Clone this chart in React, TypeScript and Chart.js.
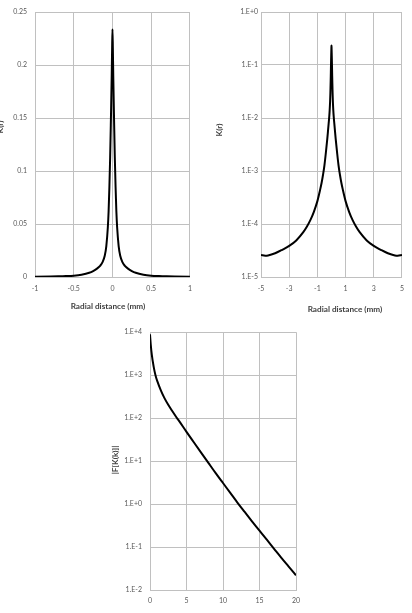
import React, { useEffect, useRef } from 'react';
import { Chart, registerables } from 'chart.js';

Chart.register(...registerables);

// Radial profile of the kernel K(r), sampled from -5 mm to 5 mm
const radius = [
  -5, -4.7, -4.5, -4, -3.5, -3, -2.5, -2, -1.75, -1.5, -1.25, -1, -0.8, -0.7, -0.6, -0.5,
  -0.4, -0.3, -0.25, -0.2, -0.16, -0.13, -0.1, -0.08, -0.06, -0.05, -0.04, -0.03, -0.02,
  -0.01, -0.005, 0, 0.005, 0.01, 0.02, 0.03, 0.04, 0.05, 0.06, 0.08, 0.1, 0.13, 0.16, 0.2,
  0.25, 0.3, 0.4, 0.5, 0.6, 0.7, 0.8, 1, 1.25, 1.5, 1.75, 2, 2.5, 3, 3.5, 4, 4.5, 4.7, 5,
];
const kernel = [
  0.000026, 0.0000252, 0.0000255, 0.000028, 0.0000325, 0.0000386, 0.000049, 0.00007,
  0.0000885, 0.000118, 0.00017, 0.00027, 0.00045, 0.0006, 0.00085, 0.00128, 0.0022, 0.004,
  0.0056, 0.0079, 0.0105, 0.0138, 0.02, 0.029, 0.047, 0.062, 0.085, 0.113, 0.15, 0.19, 0.215,
  0.234,
  0.215, 0.19, 0.15, 0.113, 0.085, 0.062, 0.047, 0.029, 0.02, 0.0138, 0.0105, 0.0079, 0.0056,
  0.004, 0.0022, 0.00128, 0.00085, 0.0006, 0.00045, 0.00027, 0.00017, 0.000118, 0.0000885,
  0.00007, 0.000049, 0.0000386, 0.0000325, 0.000028, 0.0000255, 0.0000252, 0.000026,
];

// Magnitude of the kernel's Fourier transform |F[K(k)]|
const waveNumber = [
  0, 0.1, 0.25, 0.5, 0.75, 1, 1.5, 2, 2.5, 3, 3.5, 4, 5, 6, 7, 8, 9, 10, 11, 12, 13, 14, 15,
  16, 17, 18, 19, 20,
];
const spectrum = [
  8900, 5250, 2950, 1585, 1000, 725, 437, 288, 204, 150, 112, 85, 48, 27.5, 15.8, 9.1, 5.25,
  3.09, 1.82, 1.07, 0.646, 0.389, 0.24, 0.148, 0.091, 0.056, 0.035, 0.0219,
];

// Axis ticks and their labels
const linXTicks = [-1, -0.5, 0, 0.5, 1];
const linXLabels = ['-1', '-0.5', '0', '0.5', '1'];
const linYTicks = [0, 0.05, 0.1, 0.15, 0.2, 0.25];
const linYLabels = ['0', '0.05', '0.1', '0.15', '0.2', '0.25'];

const logXTicks = [-5, -3, -1, 1, 3, 5];
const logXLabels = ['-5', '-3', '-1', '1', '3', '5'];
const logYTicks = [1e-5, 1e-4, 1e-3, 1e-2, 1e-1, 1];
const logYLabels = ['1.E-5', '1.E-4', '1.E-3', '1.E-2', '1.E-1', '1.E+0'];

const ftXTicks = [0, 5, 10, 15, 20];
const ftXLabels = ['0', '5', '10', '15', '20'];
const ftYTicks = [1e-2, 1e-1, 1, 10, 100, 1000, 10000];
const ftYLabels = ['1.E-2', '1.E-1', '1.E+0', '1.E+1', '1.E+2', '1.E+3', '1.E+4'];

const FONT = 'Lato, "Liberation Sans", sans-serif';
const TICK_SIZE = 7;
const TITLE_SIZE = 8.2;
const TICK_COLOR = '#595959';
const TITLE_COLOR = '#404040';
const GRID_COLOR = '#c0c0c0';

type TitleSpec = { text: string; cx: number; cy: number };

// Draws axis titles at fixed spots on the canvas
const axisTitles = {
  id: 'axisTitles',
  afterDraw(chart: any, _args: any, opts: any) {
    const { ctx } = chart;
    ctx.save();
    ctx.font = `bold ${TITLE_SIZE}px ${FONT}`;
    ctx.fillStyle = TITLE_COLOR;
    ctx.textAlign = 'center';
    ctx.textBaseline = 'middle';
    const x: TitleSpec | undefined = opts.x;
    const y: TitleSpec | undefined = opts.y;
    if (x) ctx.fillText(x.text, x.cx, x.cy);
    if (y) {
      ctx.translate(y.cx, y.cy);
      ctx.rotate(-Math.PI / 2);
      ctx.fillText(y.text, 0, 0);
    }
    ctx.restore();
  },
};

interface PanelProps {
  left: number;
  top: number;
  width: number;
  height: number;
  xs: number[];
  ys: number[];
  xMin: number;
  xMax: number;
  xTicks: number[];
  xLabels: string[];
  yType: 'linear' | 'logarithmic';
  yMin: number;
  yMax: number;
  yTicks: number[];
  yLabels: string[];
  yAxisWidth: number;
  xAxisHeight: number;
  padTop: number;
  padRight: number;
  yTickPad: number;
  xTickPad: number;
  xTitle?: TitleSpec;
  yTitle?: TitleSpec;
}

function Panel(p: PanelProps) {
  const ref = useRef<HTMLCanvasElement | null>(null);

  useEffect(() => {
    if (!ref.current) return;
    const points = p.xs.map((x, i) => ({ x, y: p.ys[i] }));
    const tickFont = { family: FONT, size: TICK_SIZE };
    const chart = new Chart(ref.current, {
      type: 'line',
      data: {
        datasets: [
          {
            data: points,
            borderColor: '#000000',
            borderWidth: 2,
            pointRadius: 0,
            fill: false,
            cubicInterpolationMode: 'monotone',
          },
        ],
      },
      options: {
        animation: false,
        responsive: false,
        devicePixelRatio: 1,
        parsing: false as any,
        layout: { padding: { top: p.padTop, right: p.padRight, left: 0, bottom: 0 } },
        plugins: {
          legend: { display: false },
          tooltip: { enabled: false },
          axisTitles: { x: p.xTitle, y: p.yTitle },
        } as any,
        scales: {
          x: {
            type: 'linear',
            min: p.xMin,
            max: p.xMax,
            afterBuildTicks: (s: any) => {
              s.ticks = p.xTicks.map((value) => ({ value }));
            },
            afterFit: (s: any) => {
              s.height = p.xAxisHeight;
            },
            ticks: {
              font: tickFont,
              color: TICK_COLOR,
              padding: p.xTickPad,
              maxRotation: 0,
              autoSkip: false,
              callback: (_v: any, i: number) => p.xLabels[i],
            },
            grid: { color: GRID_COLOR, lineWidth: 1, drawTicks: false },
            border: { color: GRID_COLOR, width: 1 },
          },
          y: {
            type: p.yType,
            min: p.yMin,
            max: p.yMax,
            afterBuildTicks: (s: any) => {
              s.ticks = p.yTicks.map((value) => ({ value }));
            },
            afterFit: (s: any) => {
              s.width = p.yAxisWidth;
            },
            ticks: {
              font: tickFont,
              color: TICK_COLOR,
              padding: p.yTickPad,
              autoSkip: false,
              callback: (_v: any, i: number) => p.yLabels[i],
            },
            grid: { color: GRID_COLOR, lineWidth: 1, drawTicks: false },
            border: { color: GRID_COLOR, width: 1 },
          },
        },
      } as any,
      plugins: [axisTitles],
    });
    return () => chart.destroy();
  }, []);

  return (
    <div style={{ position: 'absolute', left: p.left, top: p.top, width: p.width, height: p.height }}>
      <canvas ref={ref} width={p.width} height={p.height} style={{ width: p.width, height: p.height, display: 'block' }} />
    </div>
  );
}

export default function App() {
  return (
    <div style={{ position: 'absolute', left: 0, top: 0, width: 412, height: 613, background: '#ffffff', overflow: 'hidden' }}>
      <Panel
        left={0}
        top={0}
        width={200}
        height={320}
        xs={radius}
        ys={kernel}
        xMin={-1}
        xMax={1}
        xTicks={linXTicks}
        xLabels={linXLabels}
        yType="linear"
        yMin={0}
        yMax={0.25}
        yTicks={linYTicks}
        yLabels={linYLabels}
        yAxisWidth={35}
        xAxisHeight={43}
        padTop={12}
        padRight={10}
        yTickPad={8}
        xTickPad={8}
        xTitle={{ text: 'Radial distance (mm)', cx: 108, cy: 306 }}
        yTitle={{ text: 'K(r)', cx: 0, cy: 127 }}
      />
      <Panel
        left={206}
        top={0}
        width={206}
        height={320}
        xs={radius}
        ys={kernel}
        xMin={-5}
        xMax={5}
        xTicks={logXTicks}
        xLabels={logXLabels}
        yType="logarithmic"
        yMin={1e-5}
        yMax={1}
        yTicks={logYTicks}
        yLabels={logYLabels}
        yAxisWidth={55}
        xAxisHeight={43}
        padTop={12}
        padRight={3}
        yTickPad={3}
        xTickPad={8}
        xTitle={{ text: 'Radial distance (mm)', cx: 139, cy: 309 }}
        yTitle={{ text: 'K(r)', cx: 13, cy: 130 }}
      />
      <Panel
        left={100}
        top={320}
        width={210}
        height={293}
        xs={waveNumber}
        ys={spectrum}
        xMin={0}
        xMax={20}
        xTicks={ftXTicks}
        xLabels={ftXLabels}
        yType="logarithmic"
        yMin={1e-2}
        yMax={1e4}
        yTicks={ftYTicks}
        yLabels={ftYLabels}
        yAxisWidth={50}
        xAxisHeight={23}
        padTop={10}
        padRight={14}
        yTickPad={8}
        xTickPad={7}
        yTitle={{ text: '|F[K(k)]|', cx: 15, cy: 140 }}
      />
    </div>
  );
}
